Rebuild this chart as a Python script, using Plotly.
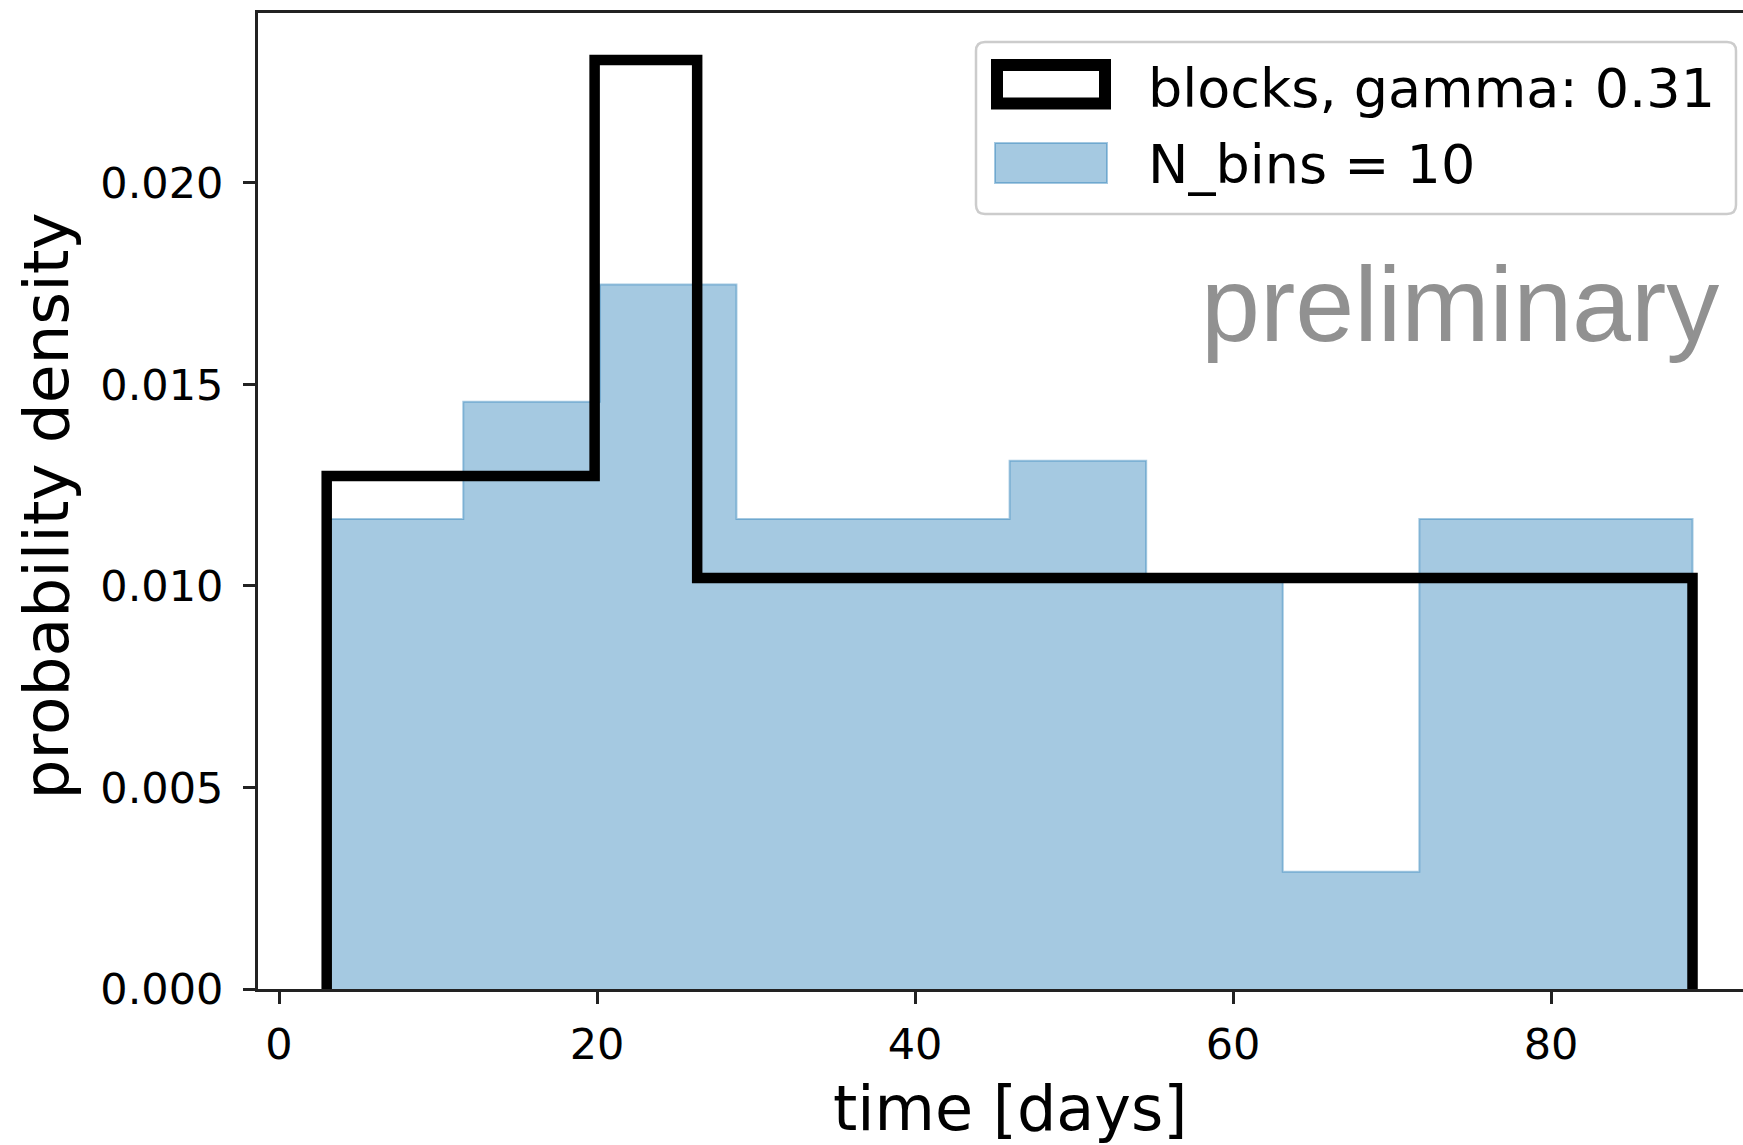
import plotly.graph_objects as go

# Histogram of event times (10 equal-width bins, density-normalised)
hist_edges = [3.0, 11.59, 20.18, 28.77, 37.36, 45.95, 54.54, 63.13, 71.72, 80.31, 88.9]
hist_density = [0.01166, 0.01457, 0.01748, 0.01166, 0.01166,
                0.01311, 0.01020, 0.00291, 0.01166, 0.01166]

# Bayesian blocks representation
block_edges = [3.0, 19.85, 26.3, 88.9]
block_density = [0.01273, 0.02305, 0.01020]

x_ticks = [0, 20, 40, 60, 80]
y_ticks = [0.000, 0.005, 0.010, 0.015, 0.020]

blocks_label = "blocks, gamma: 0.31"
hist_label = "N_bins = 10"
x_title = "time [days]"
y_title = "probability density"
watermark = "preliminary"

# Canvas / plot-area geometry in pixels
W, H = 1743, 1145
L, R, T, B = 258, 1743, 13, 989


def px(x):
    return (x - L) / (R - L)


def py(y):
    return (B - y) / (B - T)


def step_outline(edges, values):
    xs, ys = [edges[0]], [0.0]
    for i, v in enumerate(values):
        xs += [edges[i], edges[i + 1]]
        ys += [v, v]
    xs.append(edges[-1])
    ys.append(0.0)
    return xs, ys


hx, hy = step_outline(hist_edges, hist_density)
bx, by = step_outline(block_edges, block_density)

fill_rgba = "rgba(31,119,180,0.4)"
axis_col = "#222222"
font_main = "DejaVu Sans"

fig = go.Figure()
fig.add_trace(go.Scatter(
    x=hx, y=hy, mode="lines", fill="toself", fillcolor=fill_rgba,
    line=dict(color=fill_rgba, width=2), showlegend=False, hoverinfo="skip",
))
fig.add_trace(go.Scatter(
    x=bx, y=by, mode="lines",
    line=dict(color="black", width=10.5), showlegend=False, hoverinfo="skip",
))

px_per_unit_x = 15.9
x0_pix = 279
x_range = [(L - x0_pix) / px_per_unit_x, (R - x0_pix) / px_per_unit_x]
y_range = [0, 0.024218]

fig.update_layout(
    width=W, height=H,
    margin=dict(l=L, r=W - R, t=T, b=H - B),
    paper_bgcolor="white", plot_bgcolor="white",
    font=dict(family=font_main, color="black"),
    xaxis=dict(
        range=x_range, tickvals=x_ticks, ticks="outside", ticklen=12, tickwidth=3,
        tickcolor=axis_col, showline=True, linecolor=axis_col, linewidth=3,
        mirror=True, showgrid=False, zeroline=False,
        tickfont=dict(family=font_main, size=43, color="black"),
        ticklabelstandoff=3,
    ),
    yaxis=dict(
        range=y_range, tickvals=y_ticks, tickformat=".3f", ticks="outside",
        ticklen=12, tickwidth=3, tickcolor=axis_col, showline=True,
        linecolor=axis_col, linewidth=3, showgrid=False, zeroline=False,
        tickfont=dict(family=font_main, size=43, color="black"),
        ticklabelstandoff=11,
    ),
    hovermode=False,
)

annotations = [
    dict(text=x_title, x=px(1010), y=py(1108), xref="paper", yref="paper",
         xanchor="center", yanchor="middle", showarrow=False,
         font=dict(family=font_main, size=62, color="black")),
    dict(text=y_title, x=px(46), y=py(506.5), xref="paper", yref="paper",
         xanchor="center", yanchor="middle", showarrow=False, textangle=-90,
         font=dict(family=font_main, size=63, color="black")),
    dict(text=watermark, x=px(1721), y=py(304), xref="paper", yref="paper",
         xanchor="right", yanchor="middle", showarrow=False,
         font=dict(family="Liberation Sans", size=106, color="#919191")),
    dict(text=blocks_label, x=px(1146), y=py(88), xref="paper", yref="paper",
         xanchor="left", yanchor="middle", showarrow=False,
         font=dict(family=font_main, size=54, color="black")),
    dict(text=hist_label, x=px(1146), y=py(165), xref="paper", yref="paper",
         xanchor="left", yanchor="middle", showarrow=False,
         font=dict(family=font_main, size=54, color="black")),
]
fig.update_layout(annotations=annotations)

# Legend frame with rounded corners
bx0, bx1, by0, by1, rad = 976, 1736, 42, 214, 9


def P(x, y):
    return f"{px(x):.6f},{py(y):.6f}"


frame_path = (
    f"M{P(bx0 + rad, by0)} L{P(bx1 - rad, by0)} Q{P(bx1, by0)} {P(bx1, by0 + rad)} "
    f"L{P(bx1, by1 - rad)} Q{P(bx1, by1)} {P(bx1 - rad, by1)} "
    f"L{P(bx0 + rad, by1)} Q{P(bx0, by1)} {P(bx0, by1 - rad)} "
    f"L{P(bx0, by0 + rad)} Q{P(bx0, by0)} {P(bx0 + rad, by0)} Z"
)
shapes = [
    dict(type="path", path=frame_path, xref="paper", yref="paper",
         line=dict(color="#cccccc", width=2.5), fillcolor="rgba(255,255,255,0.8)"),
    dict(type="rect", x0=px(997), x1=px(1105), y0=py(103.5), y1=py(65),
         xref="paper", yref="paper", line=dict(color="black", width=12),
         fillcolor="white"),
    dict(type="rect", x0=px(995), x1=px(1107), y0=py(183), y1=py(143),
         xref="paper", yref="paper", line=dict(color=fill_rgba, width=2),
         fillcolor=fill_rgba),
]
fig.update_layout(shapes=shapes)

fig.write_html("out.html")
